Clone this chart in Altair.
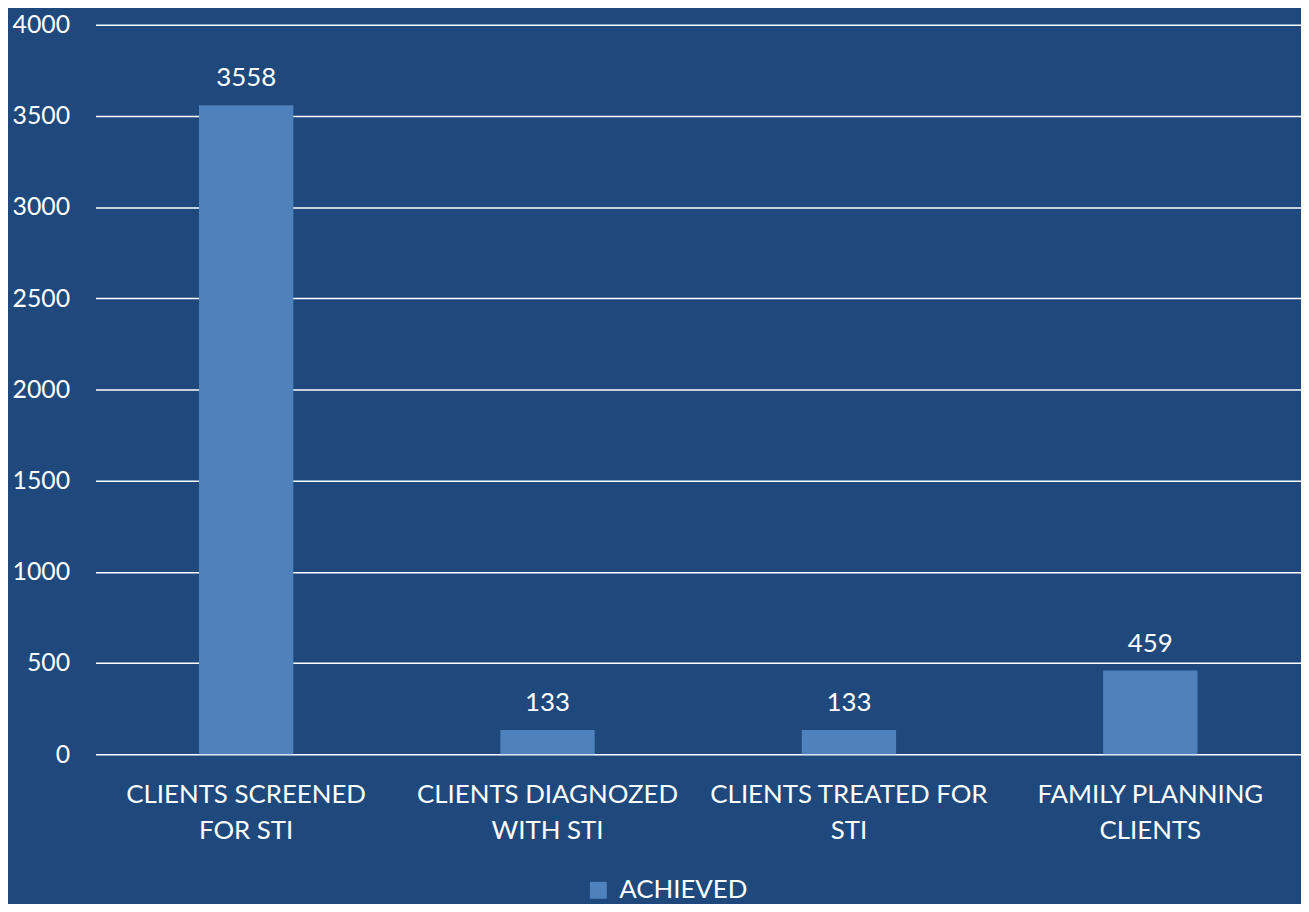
import altair as alt
import pandas as pd

categories = ["CLIENTS SCREENED\nFOR STI", "CLIENTS DIAGNOZED\nWITH STI", "CLIENTS TREATED FOR\nSTI", "FAMILY PLANNING\nCLIENTS"]
achieved = [3558, 133, 133, 459]
series = ["ACHIEVED"] * 4
y_ticks = [0, 500, 1000, 1500, 2000, 2500, 3000, 3500, 4000]

df = pd.DataFrame({"category": categories, "value": achieved, "series": series})

BG = "#1F497D"
BAR = "#4F81BD"
FONT = "Lato"
FS = 26

base = alt.Chart(df)

bars = base.mark_bar(color=BAR).encode(
    x=alt.X("category:N", sort=categories, title=None,
            scale=alt.Scale(paddingInner=0.687, paddingOuter=0.3435),
            axis=alt.Axis(labelAngle=0, labelExpr="split(datum.label, '\\n')",
                          labelFontSize=FS, labelColor="white", labelFont=FONT,
                          labelLineHeight=36, labelPadding=41, labelLimit=0,
                          domain=False, ticks=False, grid=False, labelBaseline="middle")),
    y=alt.Y("value:Q", title=None,
            scale=alt.Scale(domain=[0, 4000], nice=False),
            axis=alt.Axis(values=y_ticks, format="d", labelFontSize=25, labelColor="white",
                          labelFont=FONT, labelPadding=26, domain=False, ticks=False,
                          grid=True, gridColor="white", gridWidth=1.5, gridOpacity=1)),
    color=alt.Color("series:N", title=None,
                    scale=alt.Scale(domain=["ACHIEVED"], range=[BAR]),
                    legend=alt.Legend(orient="none", legendX=493, legendY=858,
                                      symbolType="square", symbolSize=289, symbolStrokeWidth=0,
                                      labelFontSize=FS, labelColor="white", labelFont=FONT,
                                      labelOffset=8, labelLimit=0, direction="horizontal")),
)

texts = base.mark_text(color="white", fontSize=FS, font=FONT, baseline="alphabetic", dy=-19).encode(
    x=alt.X("category:N", sort=categories),
    y=alt.Y("value:Q"),
    text=alt.Text("value:Q", format="d"),
)

chart = alt.layer(bars, texts).properties(
    width=1213, height=734,
    padding={"left": 88, "top": 14, "right": 0, "bottom": 148},
    autosize=alt.AutoSizeParams(type="none"),
    background=BG,
).configure_view(stroke=None, fill=BG)

chart.save("out.html", embed_options={"renderer": "svg", "actions": False})
